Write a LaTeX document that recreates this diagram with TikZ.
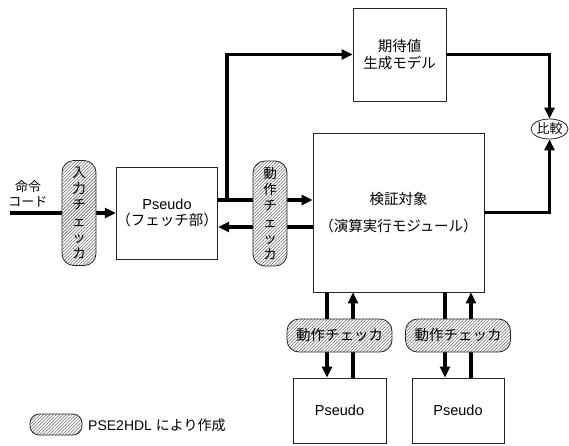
\documentclass[tikz,border=0pt]{standalone}
\usepackage{fontspec}
\setmainfont{Liberation Sans}
\newfontfamily\jp{Noto Sans CJK JP}
\usetikzlibrary{arrows.meta,shapes.geometric,patterns.meta}
\begin{document}
\begin{tikzpicture}[x=1pt,y=-1pt,
  box/.style={draw=black!85,line width=0.8pt,fill=white,inner sep=0pt,align=center,font=\fontsize{14.5}{17}\selectfont},
  conn/.style={line width=3.4pt,-{Triangle[length=11pt,width=10pt]}},
  chk/.style={draw=black!85,line width=0.8pt,rounded corners=12pt,preaction={fill=white},
    pattern={Lines[angle=45,distance=2.3pt,line width=0.55pt]},pattern color=black!60,
    inner sep=0pt,align=center},
  vchk/.style={chk,minimum width=34pt,minimum height=105pt,font=\jp\fontsize{13.5}{16.3}\selectfont},
  hchk/.style={chk,minimum width=105pt,minimum height=33pt,font=\jp\fontsize{14.5}{16}\selectfont},
  lbl/.style={inner sep=0pt,align=center}
]
\useasboundingbox (0,0) rectangle (569,445);

% boxes
\node[box,minimum width=93pt,minimum height=93pt] (exp) at (399.5,54.5) {\jp 期待値\\\jp 生成モデル};
\node[box,minimum width=171pt,minimum height=159pt] (vt) at (398.5,212.5) {\jp 検証対象\\[10pt]\jp （演算実行モジュール）};
\node[box,minimum width=92pt,minimum height=92pt] (pf) at (167,213) {Pseudo\\[-1pt]\jp （フェッチ部）};
\node[box,minimum width=93pt,minimum height=65pt] (pb1) at (339.5,410.5) {Pseudo};
\node[box,minimum width=92pt,minimum height=65pt] (pb2) at (458,410.5) {Pseudo};
\node[draw=black!85,line width=0.8pt,fill=white,ellipse,inner sep=0pt,minimum width=37pt,minimum height=20pt,font=\jp\fontsize{13}{15}\selectfont] (cmp) at (549.5,129) {比較};

% helper coordinates
\coordinate (in) at (10,213);
\coordinate (j) at (227,200);
\coordinate (ret) at (260,227);
\coordinate (d1) at (327,0);
\coordinate (u1) at (353,0);
\coordinate (d2) at (445,0);
\coordinate (u2) at (471,0);

% connectors
\draw[conn] (in) -- (pf.west);
\draw[conn] (pf.east |- j) -- (vt.west |- j);
\draw[conn] (vt.west |- ret) -- (pf.east |- ret);
\draw[conn] (j) |- (exp.west);
\draw[conn] (exp.east) -| (cmp.north);
\draw[conn] (vt.east) -| (cmp.south);
\draw[conn] (vt.south -| d1) -- (pb1.north -| d1);
\draw[conn] (pb1.north -| u1) -- (vt.south -| u1);
\draw[conn] (vt.south -| d2) -- (pb2.north -| d2);
\draw[conn] (pb2.north -| u2) -- (vt.south -| u2);

% checkers
\node[vchk] (ic) at (79,213) {入\\力\\チ\\ェ\\ッ\\カ};
\node[vchk] (mc) at (270,213.5) {動\\作\\チ\\ェ\\ッ\\カ};
\node[hchk] (bc1) at (339.5,335.5) {動作チェッカ};
\node[hchk] (bc2) at (458,335.5) {動作チェッカ};

% labels
\node[lbl,font=\jp\fontsize{13}{14.5}\selectfont] (cmd) at (28,194) {命令\\コード};

% legend
\node[chk,minimum width=52pt,minimum height=21pt,rounded corners=9pt] (leg) at (56,424.5) {};
\node[lbl,anchor=west,font=\fontsize{14}{16}\selectfont] (legt) at (88,425) {PSE2HDL {\jp により作成}};
\end{tikzpicture}
\end{document}
